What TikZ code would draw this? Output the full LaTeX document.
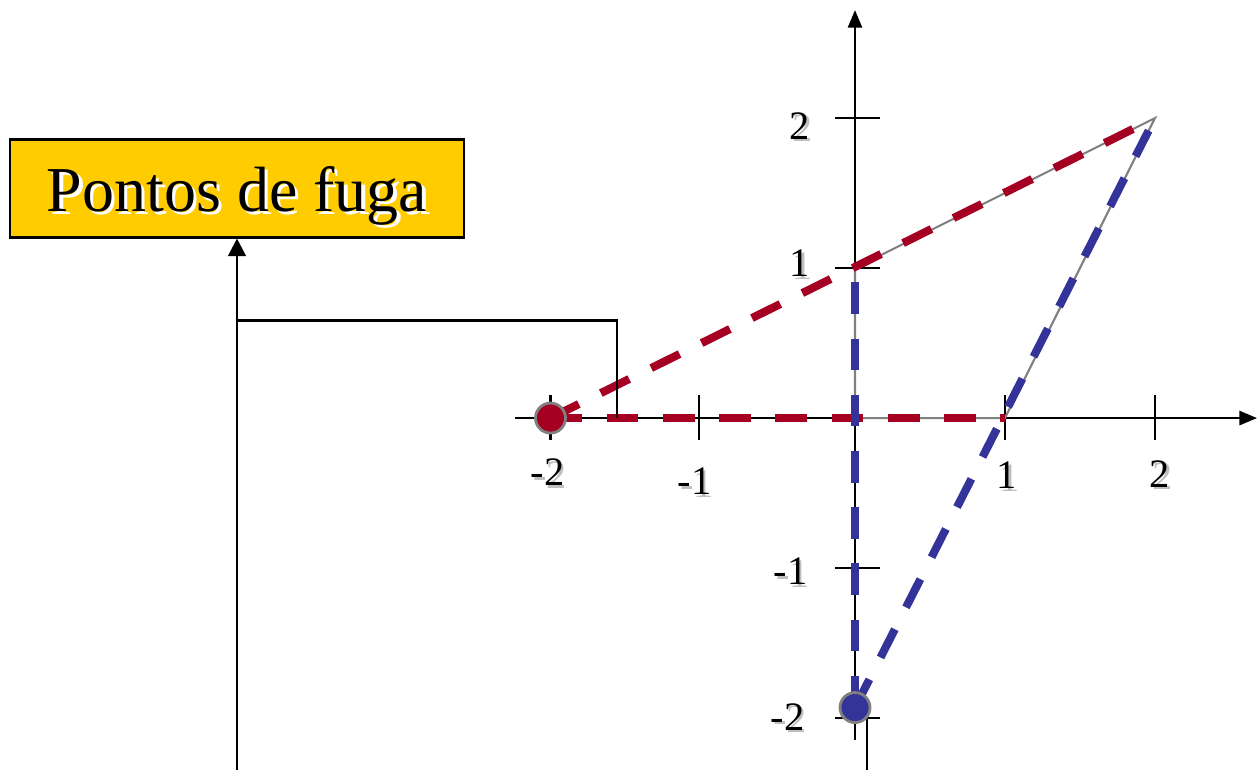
\documentclass[tikz,border=0pt]{standalone}
\usepackage{fontspec}
\setmainfont{Liberation Serif}
\usetikzlibrary{arrows.meta,positioning}

\definecolor{fugared}{HTML}{A50021}
\definecolor{fugablue}{HTML}{333399}
\definecolor{labelgold}{HTML}{FFCC00}

\newcommand{\shlabel}[1]{\makebox[0pt][l]{\hspace{0.8pt}\raisebox{-0.8pt}{\textcolor{black!25}{#1}}}#1}
\newcommand{\glowlabel}[1]{\makebox[0pt][l]{\hspace{1pt}\raisebox{-1pt}{\textcolor{white}{#1}}}#1}

\begin{document}
\begin{tikzpicture}[x=1.5cm, y=1.5cm,
    axis/.style={draw, line width=0.7pt, -{Triangle[length=5pt,width=4pt]}},
    tickmark/.style={draw, line width=0.6pt},
    numlabel/.style={font=\fontsize{11.5}{13}\selectfont, inner sep=0pt},
    fugaline/.style={line width=2.3pt, dash pattern=on 9pt off 7pt},
    vpoint/.style={circle, draw=gray, line width=0.8pt, minimum size=0.3cm, inner sep=0pt},
    box/.style={draw, line width=0.8pt, fill=labelgold, minimum width=4.54cm,
                minimum height=0.98cm, text height=0.5cm, text depth=0.04cm,
                align=center, font=\fontsize{18.2}{20}\selectfont}
]

\useasboundingbox (-5.7,-2.347) rectangle (2.68,2.787);

\coordinate (O) at (0,0);
\coordinate (X1) at (1,0);
\coordinate (Y1) at (0,1);
\coordinate (P22) at (2,2);

\draw[axis] (-2.267,0) -- (2.68,0);
\draw[axis] (0,-2.147) -- (0,2.72);
\draw[tickmark] (0.08,-1.88) -- (0.08,-2.347);

\foreach \x in {-2.03,-1.04,1,2}
    \draw[tickmark] (\x,0.153) -- (\x,-0.147);
\foreach \y in {2,1,-1,-2}
    \draw[tickmark] (-0.133,\y) -- (0.167,\y);

\node[numlabel] (lblxm2) at (-2.05,-0.37) {\shlabel{-2}};
\node[numlabel] (lblxm1) at (-1.07,-0.43) {\shlabel{-1}};
\node[numlabel] (lblx1) at (1.01,-0.39) {\shlabel{1}};
\node[numlabel] (lblx2) at (2.03,-0.38) {\shlabel{2}};
\node[numlabel] (lbly2) at (-0.37,1.94) {\shlabel{2}};
\node[numlabel] (lbly1) at (-0.37,1.02) {\shlabel{1}};
\node[numlabel] (lblym1) at (-0.43,-1.03) {\shlabel{-1}};
\node[numlabel] (lblym2) at (-0.45,-2.0) {\shlabel{-2}};

\draw[gray, line width=0.6pt] (O) -- (X1) -- (P22) -- (Y1) -- cycle;

\coordinate (vpLc) at (-2.03,0);
\coordinate (vpBc) at (0,-1.93);

\draw[fugaline, fugared, shorten >=3pt] (vpLc) -- (P22);
\draw[fugaline, fugared] (vpLc) -- (X1);
\draw[fugaline, fugablue] (vpBc) -- (Y1);
\draw[fugaline, fugablue, shorten >=4pt] (vpBc) -- (P22);

\node[vpoint, fill=fugared] (vpL) at (vpLc) {};
\node[vpoint, fill=fugablue] (vpB) at (vpBc) {};

\node[box] (fuga) at (-4.12,1.533) {\glowlabel{Pontos de fuga}};

\coordinate (foot) at (-1.587,0);
\coordinate (bend) at (-1.587,0.653);
\coordinate (stem) at (-4.12,-2.347);

\draw[line width=0.8pt, -{Triangle[length=5pt,width=5pt]}] (stem) -- (fuga.south);
\draw[line width=0.8pt] (foot) -- (bend) -- (bend -| fuga.south);

\end{tikzpicture}
\end{document}
